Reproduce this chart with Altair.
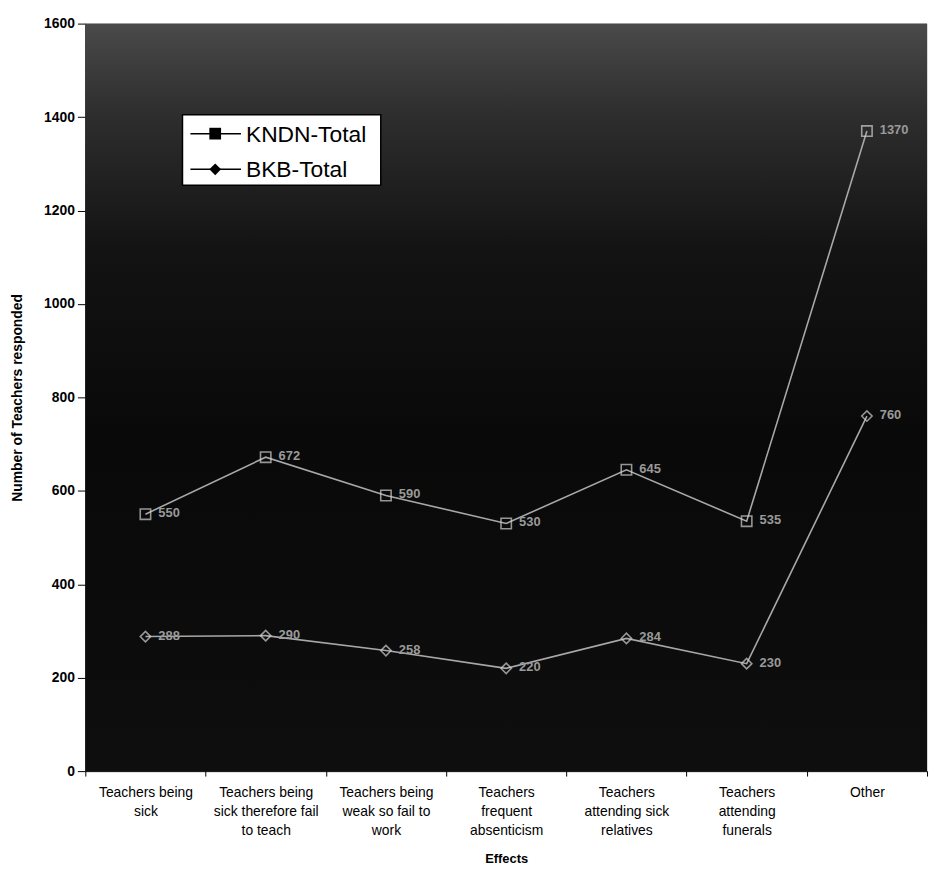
import altair as alt
import pandas as pd

# ---- data ----
categories = [
    "Teachers being|sick",
    "Teachers being|sick therefore fail|to teach",
    "Teachers being|weak so fail to|work",
    "Teachers|frequent|absenticism",
    "Teachers|attending sick|relatives",
    "Teachers|attending|funerals",
    "Other",
]
series_names = ["KNDN-Total", "BKB-Total"]
kndn_values = [550, 672, 590, 530, 645, 535, 1370]
bkb_values = [288, 290, 258, 220, 284, 230, 760]
y_ticks = [0, 200, 400, 600, 800, 1000, 1200, 1400, 1600]

rows = []
for c, k, b in zip(categories, kndn_values, bkb_values):
    rows.append({"cat": c, "series": series_names[0], "value": k})
    rows.append({"cat": c, "series": series_names[1], "value": b})
df = pd.DataFrame(rows)

W, H = 849, 754
FONT = "Liberation Sans, Arial, sans-serif"

x_enc = alt.X(
    "cat:N",
    sort=categories,
    scale=alt.Scale(type="band", paddingInner=0, paddingOuter=0),
    axis=alt.Axis(
        title="Effects",
        labelExpr="split(datum.label, '|')",
        labelAngle=0,
        labelFont=FONT,
        labelFontSize=14,
        labelLineHeight=19,
        labelPadding=10,
        labelColor="black",
        labelOverlap=False,
        tickBand="extent",
        tickSize=5,
        tickColor="black",
        domainColor="black",
        titleFont=FONT,
        titleFontSize=13,
        titleFontWeight="bold",
        titleColor="black",
        titleY=88,
        titleBaseline="middle",
    ),
)
y_enc = alt.Y(
    "value:Q",
    scale=alt.Scale(domain=[0, 1600], nice=False),
    axis=alt.Axis(
        title="Number of Teachers responded",
        values=y_ticks,
        format="d",
        grid=False,
        labelFont=FONT,
        labelFontSize=14,
        labelFontWeight="bold",
        labelColor="black",
        labelPadding=3,
        tickSize=8,
        tickColor="black",
        domainColor="black",
        titleFont=FONT,
        titleFontSize=14,
        titleFontWeight="bold",
        titleColor="black",
        titleX=-68,
        titleY=H / 2,
        titleAngle=270,
        titleAlign="center",
        titleBaseline="middle",
    ),
)

one = pd.DataFrame({"a": [0]})

background = alt.Chart(one).mark_rect(
    color=alt.Gradient(
        gradient="linear",
        x1=0, x2=0, y1=0, y2=1,
        stops=[
            alt.GradientStop(offset=0, color="#4a4a4a"),
            alt.GradientStop(offset=0.12, color="#2e2e2e"),
            alt.GradientStop(offset=0.3, color="#131313"),
            alt.GradientStop(offset=0.55, color="#090909"),
            alt.GradientStop(offset=1, color="#0e0e0e"),
        ],
    )
).encode(x=alt.value(0), x2=alt.value(W), y=alt.value(0), y2=alt.value(H))

base = alt.Chart(df).encode(x=x_enc, y=y_enc, detail="series:N")

lines = base.mark_line(color="#a8a8a8", strokeWidth=1.6)
points = base.mark_point(filled=False, color="#d2d2d2", size=110, strokeWidth=1.6).encode(
    shape=alt.Shape("series:N", scale=alt.Scale(domain=series_names, range=["square", "diamond"]), legend=None)
)
labels = base.mark_text(
    align="left", baseline="middle", dx=13, dy=-1, font=FONT, fontSize=13,
    fontWeight="bold", color="#9a9a9a"
).encode(text="value:Q")

# ---- manual legend (white box, black symbols) ----
leg_x0, leg_x1, leg_y0, leg_y1 = 98, 298, 92, 163
entry_y = [111, 147]
legend_layers = [
    alt.Chart(one).mark_rect(fill="white", stroke="black", strokeWidth=1.5).encode(
        x=alt.value(leg_x0), x2=alt.value(leg_x1), y=alt.value(leg_y0), y2=alt.value(leg_y1)
    )
]
for name, ey, shp in zip(series_names, entry_y, ["square", "diamond"]):
    legend_layers.append(
        alt.Chart(one).mark_rule(color="black", strokeWidth=1.5).encode(
            x=alt.value(106), x2=alt.value(157), y=alt.value(ey)
        )
    )
    legend_layers.append(
        alt.Chart(one).mark_point(shape=shp, filled=True, color="black", size=140, opacity=1).encode(
            x=alt.value(131), y=alt.value(ey)
        )
    )
    legend_layers.append(
        alt.Chart(one).mark_text(
            text=name, align="left", baseline="middle", font=FONT, fontSize=23, color="black"
        ).encode(x=alt.value(162), y=alt.value(ey + 1))
    )

chart = alt.layer(background, lines, points, labels, *legend_layers).properties(
    width=W,
    height=H,
    autosize=alt.AutoSizeParams(type="none"),
    padding={"left": 78, "top": 12, "right": 4, "bottom": 96},
).configure_view(stroke="transparent").configure(background="white")

chart.save("out.html", embed_options={"renderer": "svg", "actions": False})
